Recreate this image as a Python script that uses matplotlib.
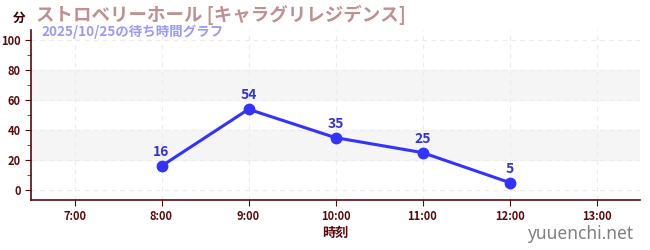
import matplotlib
matplotlib.use("Agg")
import matplotlib.pyplot as plt
from matplotlib.ticker import MultipleLocator, FixedLocator

plt.rcParams['font.family'] = ['Noto Sans CJK JP', 'DejaVu Sans']

hours = [8, 9, 10, 11, 12]
waits = [16, 54, 35, 25, 5]
tick_hours = [7, 8, 9, 10, 11, 12, 13]
tick_labels = ["7:00", "8:00", "9:00", "10:00", "11:00", "12:00", "13:00"]
title = "ストロベリーホール [キャラグリレジデンス]"
subtitle = "2025/10/25の待ち時間グラフ"

fig = plt.figure(figsize=(6.5, 2.5), dpi=100)
ax = fig.add_axes([31/650, 50/250, 609/650, 170/250])
ax.set_xlim(6.5, 13.5)
ax.set_ylim(-6.7, 107)

axis_col = "#5a0a0a"
for y0 in (20, 60):
    ax.axhspan(y0, y0 + 20, color="#f5f5f5", zorder=0)
ax.grid(True, which="major", color="#ebebeb", linestyle=(0, (4, 4)), linewidth=0.8, zorder=1)

ax.plot(hours, waits, color="#3333ff", linewidth=2.2, marker="o", markersize=7.5, zorder=3)
for h, w in zip(hours, waits):
    ax.annotate(str(w), (h, w), xytext=(0, 5), textcoords="offset points",
                ha="center", va="bottom", color="#3333dd", fontsize=10, fontweight="bold")

ax.xaxis.set_major_locator(FixedLocator(tick_hours))
ax.set_xticklabels(tick_labels)
ax.yaxis.set_major_locator(MultipleLocator(20))
ax.yaxis.set_minor_locator(MultipleLocator(10))
ax.tick_params(axis="both", which="major", colors=axis_col, labelsize=8, length=4)
ax.tick_params(axis="y", which="minor", color="#cc0000", length=3)
for lab in ax.get_xticklabels() + ax.get_yticklabels():
    lab.set_fontweight("bold")
for s in ("top", "right"):
    ax.spines[s].set_visible(False)
for s in ("left", "bottom"):
    ax.spines[s].set_color(axis_col)
    ax.spines[s].set_linewidth(1.2)

ax.set_xlabel("時刻", color=axis_col, fontsize=9.5, fontweight="bold", labelpad=2)

fig.text(13/650, 1 - 18/250, "分", color="#3a0000", fontsize=9, fontweight="bold", va="center", ha="left")
fig.text(36/650, 1 - 15/250, title, color="#c09090", fontsize=13.3, fontweight="bold", va="center", ha="left")
fig.text(41/650, 1 - 32/250, subtitle, color="#9999ff", fontsize=9.7, fontweight="bold", va="center", ha="left")
fig.text(634/650, 1 - 234/250, "yuuenchi.net", color="#808080", fontsize=12.5, va="center", ha="right",
         fontweight="bold", family=["Noto Sans", "DejaVu Sans"])

fig.savefig("out.png", dpi=100)
